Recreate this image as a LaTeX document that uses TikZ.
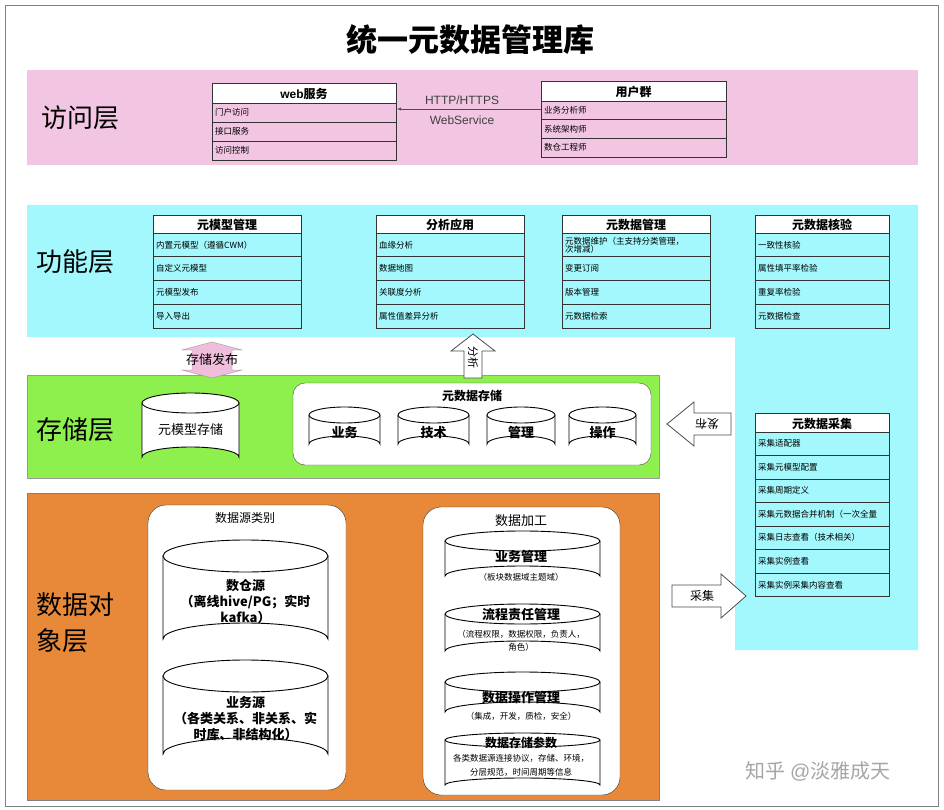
\documentclass[tikz,border=0pt]{standalone}
\usepackage{fontspec}
\setmainfont{Noto Sans CJK SC}
\setsansfont{Liberation Sans}
\usetikzlibrary{calc}
\begin{document}
\definecolor{pinkL}{HTML}{F2C6E2}
\definecolor{cyanL}{HTML}{A2F8FC}
\definecolor{greenL}{HTML}{8EF04C}
\definecolor{orangeL}{HTML}{E8893A}
\definecolor{arrPink}{HTML}{F0BEDC}
\tikzset{
 hdr/.style={font=\fontsize{12}{12}\selectfont\bfseries,inner sep=0pt},
 rowt/.style={font=\fontsize{8.5}{10}\selectfont,inner sep=0pt,anchor=west,align=left},
 lay/.style={font=\fontsize{26}{26}\selectfont,inner sep=0pt},
 cyltxt/.style={font=\fontsize{13}{16}\selectfont\bfseries,inner sep=0pt,align=center},
 blockarrow/.style={draw=black!70,fill=white,line width=0.8pt},
 wbox/.style={draw=black!80,fill=white,rounded corners=18pt},
}
\newcommand\mktable[8]{%
 \fill[white] (#2,#4) rectangle (#3,#4+#5);
 \node[hdr] (#1) at ({(#2+#3)/2},{#4+#5/2+1}) {#7};
 \foreach \t [count=\i] in {#8} {
  \draw[black!80,line width=0.6pt] (#2,{#4+#5+(\i-1)*#6}) rectangle (#3,{#4+#5+\i*#6});
  \node[rowt] (#1-\i) at (#2+3,{#4+#5+(\i-0.5)*#6}) {\t};
 }
 \draw[black!80,line width=0.8pt] (#2,#4) rectangle (#3,{#4+#5}) ;
}
\newcommand\mkcyl[6]{% name, x1, x2, ytop, ybot, ry
 \pgfmathsetmacro\cx{(#2+#3)/2}\pgfmathsetmacro\rx{(#3-#2)/2}
 \draw[fill=white,line width=0.9pt] (#2,#4+#6) -- (#2,#5-#6) arc[start angle=180,end angle=360,x radius=\rx,y radius=#6] -- (#3,#4+#6);
 \draw[fill=white,line width=0.9pt] (\cx,#4+#6) ellipse[x radius=\rx,y radius=#6];
 \coordinate (#1) at (\cx,{(#4+#5)/2});
}
\begin{tikzpicture}[x=1pt,y=-1pt]
\useasboundingbox (0,0) rectangle (944,810);
\fill[white] (0,0) rectangle (944,810);
\draw[black!50] (5,5) rectangle (938,806);
\node[font=\fontsize{31}{31}\selectfont\bfseries] (title) at (470,40) {统一元数据管理库};

% access layer
\fill[pinkL] (27,70) rectangle (918,165);
\node[lay] (l1) at (80,118) {访问层};
\mktable{web}{212}{396}{83}{20}{19}{\textsf{web}服务}{门户访问,接口服务,访问控制}
\mktable{usr}{541}{726}{81}{20}{18.7}{用户群}{业务分析师,系统架构师,数仓工程师}
\coordinate (ua) at (541,109);
\coordinate (wa) at (397,109);
\draw[-latex,black!70] (ua) -- (wa);
\node[font=\sffamily\fontsize{12}{12}\selectfont,text=black!75] (http) at (462,100) {HTTP/HTTPS};
\node[font=\sffamily\fontsize{12}{12}\selectfont,text=black!75] (ws) at (462,120) {WebService};

% function layer
\fill[cyanL] (27,205) -- (918,205) -- (918,650) -- (735,650) -- (735,337) -- (27,337) -- cycle;
\node[lay] (l2) at (75,262) {功能层};
\mktable{mm}{153}{301}{215}{18}{23.7}{元模型管理}{内置元模型（遵循CWM）,自定义元模型,元模型发布,导入导出}
\mktable{fx}{376}{524}{215}{18}{23.7}{分析应用}{血缘分析,数据地图,关联度分析,属性值差异分析}
\mktable{md}{562}{710}{215}{18}{23.7}{元数据管理}{{元数据维护（主支持分类管理，\\[-2pt]次增减）},变更订阅,版本管理,元数据检索}
\mktable{hy}{755}{889}{215}{18}{23.7}{元数据核验}{一致性核验,属性填平率检验,重复率检验,元数据检查}
\mktable{cj}{755}{889}{413}{19}{23.5}{元数据采集}{采集适配器,采集元模型配置,采集周期定义,采集元数据合并机制（一次全量,采集日志查看（技术相关）,采集实例查看,采集实例采集内容查看}

% storage layer
\fill[greenL] (27,375) rectangle (659,478);
\draw[black!40] (27,375) rectangle (659,478);
\node[lay] (l3) at (75,430) {存储层};
\mkcyl{ms}{142}{239}{393}{467}{10}
\node[cyltxt,font=\fontsize{13}{13}\selectfont] at (ms) {元模型存储};
\draw[wbox,rounded corners=12pt,draw=black!70] (293,383) rectangle (651,465);
\node[font=\fontsize{12}{12}\selectfont\bfseries] (mdcun) at (472,396) {元数据存储};
\mkcyl{c1}{309}{380}{407}{452}{8}
\mkcyl{c2}{398}{469}{407}{452}{8}
\mkcyl{c3}{487}{555}{407}{452}{8}
\mkcyl{c4}{569}{636}{407}{452}{8}
\node[cyltxt] at ($(c1)+(0,3)$) {业务};
\node[cyltxt] at ($(c2)+(0,3)$) {技术};
\node[cyltxt] at ($(c3)+(0,3)$) {管理};
\node[cyltxt] at ($(c4)+(0,3)$) {操作};

% block arrows
\draw[draw=black!40,fill=arrPink] (212,342) -- (242,350) -- (232,350) -- (232,370) -- (242,370) -- (212,378) -- (182,370) -- (192,370) -- (192,350) -- (182,350) -- cycle;
\node[font=\fontsize{13}{13}\selectfont] (ccfb) at (212,360) {存储发布};
\draw[blockarrow] (473,334) -- (495,351) -- (482,351) -- (482,378) -- (464,378) -- (464,351) -- (451,351) -- cycle;
\node[rotate=-90,font=\fontsize{11}{11}\selectfont] (fx2) at (473,357) {分析};
\draw[blockarrow] (667,424) -- (694,402) -- (694,413) -- (731,413) -- (731,435) -- (694,435) -- (694,446) -- cycle;
\node[rotate=180,font=\fontsize{12}{12}\selectfont] (fb) at (707,424) {发布};
\draw[blockarrow] (746,596) -- (721,574) -- (721,585) -- (672,585) -- (672,607) -- (721,607) -- (721,618) -- cycle;
\node[font=\fontsize{12}{12}\selectfont] (cji) at (702,596) {采集};

% data object layer
\fill[orangeL] (27,493) rectangle (659,800);
\draw[black!50] (27,493) rectangle (659,800);
\node[lay,align=left,font=\fontsize{26}{36}\selectfont] (l4) at (75,623) {数据对\\象层};
\draw[wbox] (148,505) rectangle (346,790);
\node[font=\fontsize{12}{12}\selectfont] (sjy) at (245,518) {数据源类别};
\mkcyl{sc}{163}{328}{540}{655}{16}
\node[cyltxt] at ($(sc)+(0,4)$) {数仓源\\（离线hive/PG；实时\\kafka）};
\mkcyl{yw}{163}{328}{660}{770}{16}
\node[cyltxt] at ($(yw)+(0,4)$) {业务源\\（各类关系、非关系、实\\时库、非结构化）};
\draw[wbox] (423,507) rectangle (620,795);
\node[font=\fontsize{13}{13}\selectfont] (jg) at (521,521) {数据加工};
\mkcyl{p1}{445}{600}{531}{586}{10}
\node[cyltxt,font=\fontsize{13}{13}\selectfont\bfseries] at (521,557) {业务管理};
\node[font=\fontsize{8.5}{9}\selectfont] at (521,577) {（板块数据域主题域）};
\mkcyl{p2}{445}{600}{604}{661}{10}
\node[cyltxt,font=\fontsize{13}{13}\selectfont\bfseries] at (521,615) {流程责任管理};
\node[font=\fontsize{8.5}{13}\selectfont,align=center] at (521,641) {（流程权限，数据权限，负责人，\\角色）};
\mkcyl{p3}{445}{600}{672}{722}{10}
\node[cyltxt,font=\fontsize{13}{13}\selectfont\bfseries] at (521,698) {数据操作管理};
\node[font=\fontsize{8.5}{9}\selectfont] at (521,716) {（集成，开发，质检，安全）};
\mkcyl{p4}{445}{600}{733}{792}{7}
\node[cyltxt,font=\fontsize{12}{12}\selectfont\bfseries] at (521,743) {数据存储参数};
\node[font=\fontsize{8.5}{14}\selectfont,align=center] at (521,765) {各类数据源连接协议，存储、环境，\\分层规范，时间周期等信息};

\node[font=\fontsize{20}{20}\selectfont,text=black!35] (wm) at (818,771) {知乎 \textsf{@}淡雅成天};
\end{tikzpicture}
\end{document}
